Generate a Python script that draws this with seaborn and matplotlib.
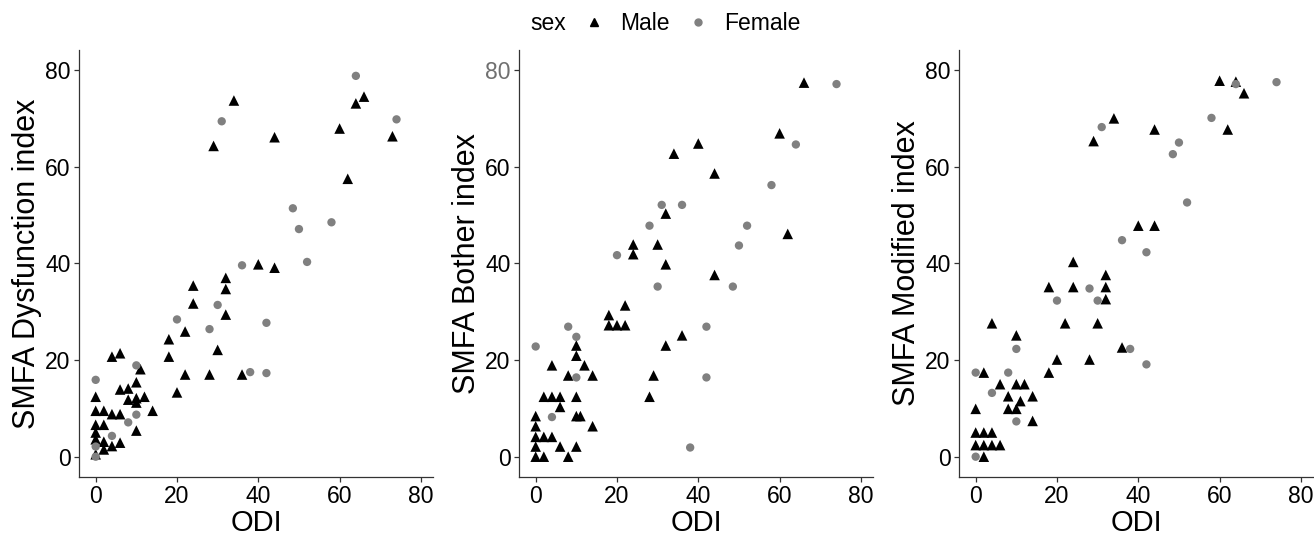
import numpy as np
import pandas as pd
import matplotlib
matplotlib.use("Agg")
import matplotlib.pyplot as plt
from matplotlib.lines import Line2D
import seaborn as sns

# =========================
# Data
# =========================
# Panel 1: SMFA Dysfunction index
dys_male_odi = [34, 66, 64, 29, 44, 60, 73, 62, 40, 44, 24, 32, 32, 24, 32, 22, 18, 18, 30, 22,
                28, 36, 20, 4, 6, 11, 10, 6, 8, 8, 10, 10, 12, 14, 0, 0, 2, 4, 6, 0,
                2, 0, 0, 2, 6, 4, 2, 0, 10]
dys_male_y = [73.7, 74.5, 73.1, 64.3, 66.1, 67.9, 66.3, 57.5, 39.8, 39.1, 35.4, 37.0, 34.7, 31.7, 29.4, 25.9, 24.3, 20.7, 22.1, 17.0,
              17.0, 17.0, 13.3, 20.7, 21.4, 18.1, 15.4, 13.9, 14.1, 11.8, 12.1, 11.2, 12.4, 9.5, 12.4, 9.5, 9.5, 8.8, 8.8, 6.6,
              6.6, 5.0, 3.6, 3.1, 2.9, 2.2, 1.5, 0.5, 5.4]
dys_female_odi = [64, 31, 74, 48.5, 50, 58, 36, 52, 30, 20, 28, 42, 38, 42, 10, 0, 10, 8, 4, 0, 0]
dys_female_y = [78.8, 69.4, 69.8, 51.4, 47.1, 48.5, 39.6, 40.3, 31.4, 28.4, 26.4, 27.7, 17.5, 17.3, 18.9, 15.9, 8.7, 7.1, 4.3, 2.1, 0.0]

# Panel 2: SMFA Bother index
bot_male_odi = [66, 60, 40, 34, 44, 32, 62, 24, 30, 24, 32, 44, 22, 18, 18, 20, 22, 36, 32, 10,
                10, 4, 12, 8, 14, 29, 2, 4, 6, 10, 28, 6, 0, 10, 11, 14, 0, 0, 2, 4,
                0, 6, 10, 0, 2, 8]
bot_male_y = [77.4, 66.9, 64.8, 62.7, 58.6, 50.3, 46.1, 43.9, 43.9, 41.9, 39.8, 37.6, 31.3, 29.3, 27.2, 27.2, 27.2, 25.1, 23.0, 23.0,
              20.9, 18.9, 18.9, 16.8, 16.8, 16.8, 12.4, 12.4, 12.4, 12.4, 12.4, 10.3, 8.4, 8.4, 8.4, 6.3, 6.3, 4.1, 4.1, 4.1,
              2.1, 2.1, 2.1, 0.0, 0.0, 0.0]
bot_female_odi = [74, 64, 58, 31, 36, 28, 52, 50, 20, 30, 48.5, 42, 8, 10, 0, 10, 42, 4, 38]
bot_female_y = [77.1, 64.6, 56.2, 52.1, 52.1, 47.8, 47.8, 43.7, 41.7, 35.2, 35.2, 26.9, 26.9, 24.8, 22.8, 16.4, 16.4, 8.2, 1.9]

# Panel 3: SMFA Modified index
mod_male_odi = [60, 64, 66, 34, 44, 62, 29, 40, 44, 24, 18, 24, 32, 32, 32, 22, 30, 4, 10, 36,
                20, 28, 18, 2, 6, 10, 12, 8, 14, 11, 0, 8, 10, 14, 0, 2, 4, 0, 2, 4,
                6, 2]
mod_male_y = [77.8, 77.6, 75.2, 70.0, 67.7, 67.7, 65.3, 47.8, 47.8, 40.3, 35.1, 35.1, 37.6, 35.1, 32.6, 27.6, 27.6, 27.6, 25.1, 22.6,
              20.1, 20.1, 17.4, 17.4, 15.0, 15.0, 15.0, 12.5, 12.5, 11.5, 9.9, 9.9, 9.9, 7.4, 5.0, 5.0, 5.0, 2.4, 2.4, 2.4,
              2.4, 0.0]
mod_female_odi = [74, 64, 58, 31, 50, 48.5, 52, 36, 42, 28, 20, 30, 10, 38, 42, 0, 8, 4, 10, 0]
mod_female_y = [77.5, 77.1, 70.1, 68.2, 65.0, 62.6, 52.6, 44.8, 42.3, 34.8, 32.3, 32.3, 22.3, 22.3, 19.1, 17.4, 17.4, 13.2, 7.3, 0.0]

y_labels = ["SMFA Dysfunction index", "SMFA Bother index", "SMFA Modified index"]
ticks = [0, 20, 40, 60, 80]


def make_df(m_x, m_y, f_x, f_y):
    male = pd.DataFrame({"ODI": m_x, "score": m_y, "sex": "Male"})
    female = pd.DataFrame({"ODI": f_x, "score": f_y, "sex": "Female"})
    return pd.concat([male, female], ignore_index=True)


panels = [
    make_df(dys_male_odi, dys_male_y, dys_female_odi, dys_female_y),
    make_df(bot_male_odi, bot_male_y, bot_female_odi, bot_female_y),
    make_df(mod_male_odi, mod_male_y, mod_female_odi, mod_female_y),
]

# =========================
# Style
# =========================
sns.set_style("ticks")
plt.rcParams["font.family"] = ["Liberation Sans", "DejaVu Sans"]
plt.rcParams["text.color"] = "black"
plt.rcParams["axes.labelcolor"] = "black"

palette = {"Male": "black", "Female": "#808080"}
markers = {"Male": "^", "Female": "o"}
sizes = {"Male": 58, "Female": 36}
axis_col = "#333333"

W, H = 1314, 537
fig = plt.figure(figsize=(W / 100, H / 100), dpi=100)
lefts = [79.3, 519.3, 959.3]

for i, df in enumerate(panels):
    ax = fig.add_axes([lefts[i] / W, 60.3 / H, 353.4 / W, 426.7 / H])
    sns.scatterplot(data=df, x="ODI", y="score", hue="sex", style="sex", size="sex",
                    palette=palette, markers=markers, sizes=sizes,
                    linewidth=0, legend=False, ax=ax)
    ax.set_xlim(-4.03, 82.9)
    ax.set_ylim(-4.14, 84.15)
    ax.set_xticks(ticks)
    ax.set_yticks(ticks)
    ax.set_xlabel("ODI", fontsize=21, color="black")
    ax.set_ylabel(y_labels[i], fontsize=22, color="black")
    ax.xaxis.labelpad = 0.5
    ax.yaxis.labelpad = 2
    ax.tick_params(labelsize=16.5, length=3.8, width=0.9, color=axis_col,
                   labelcolor="black", pad=2.5)
    for s in ["top", "right"]:
        ax.spines[s].set_visible(False)
    for s in ["left", "bottom"]:
        ax.spines[s].set_color(axis_col)
        ax.spines[s].set_linewidth(0.9)
    if i == 1:
        ax.get_yticklabels()[-1].set_color("#707070")

# Legend across the top
fig.text(530 / W, 1 - 24 / H, "sex", fontsize=16.5, va="center", ha="left", color="black")
handles = [
    Line2D([], [], linestyle="none", marker="^", color="black", markersize=6),
    Line2D([], [], linestyle="none", marker="o", color="#808080", markersize=5),
]
leg = fig.legend(handles, ["Male", "Female"], loc="center left",
                 bbox_to_anchor=(582.5 / W, 1 - 24 / H), ncol=2, frameon=False,
                 fontsize=16.5, handlelength=1.0, handletextpad=0.63,
                 columnspacing=0.76, borderpad=0, borderaxespad=0)
for t in leg.get_texts():
    t.set_color("black")

plt.savefig("out.png", dpi=100)
